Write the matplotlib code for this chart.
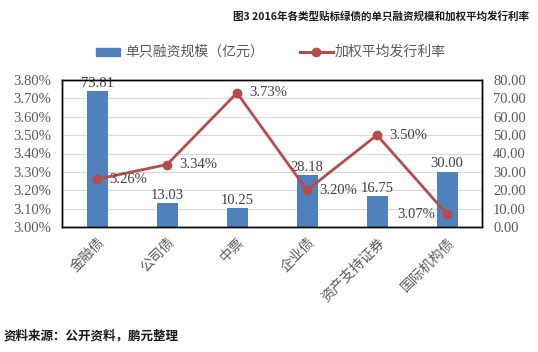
import matplotlib.pyplot as plt
from matplotlib.ticker import FuncFormatter, MultipleLocator

plt.rcParams['font.family'] = ['Noto Sans CJK SC', 'DejaVu Sans']

categories = ['金融债', '公司债', '中票', '企业债', '资产支持证券', '国际机构债']
scale = [73.81, 13.03, 10.25, 28.18, 16.75, 30.00]
rate = [3.26, 3.34, 3.73, 3.20, 3.50, 3.07]

bar_color = '#4F81BD'
line_color = '#B84A4A'
text_gray = '#595959'
num_font = ['Liberation Serif', 'DejaVu Serif']

fig = plt.figure(figsize=(5.38, 3.52), dpi=100)
ax = fig.add_axes([62 / 538, 1 - 227 / 352, 420 / 538, 147 / 352])
ax2 = ax.twinx()

x = list(range(len(categories)))

# bars on the right axis, line on the left axis
ax2.bar(x, scale, width=0.3, color=bar_color, zorder=2)
ax2.set_ylim(0, 80)
ax2.yaxis.set_major_locator(MultipleLocator(10))
ax2.yaxis.set_major_formatter(FuncFormatter(lambda v, p: f'{v:.2f}'))
ax2.grid(axis='y', color='#D9D9D9', linewidth=0.8, zorder=0)
ax2.set_axisbelow(True)
for xi, v in zip(x, scale):
    ax2.text(xi, v + 0.8, f'{v:.2f}', ha='center', va='bottom', fontsize=10.5,
             color='#404040', family=num_font)

ax.set_zorder(ax2.get_zorder() + 1)
ax.patch.set_visible(False)
ax.plot(x, rate, color=line_color, linewidth=2, marker='o', markersize=6, zorder=3)
ax.set_ylim(3.0, 3.8)
ax.set_xlim(-0.5, len(categories) - 0.5)
ax.yaxis.set_major_locator(MultipleLocator(0.1))
ax.yaxis.set_major_formatter(FuncFormatter(lambda v, p: f'{v:.2f}%'))
for xi, v in zip(x, rate):
    if xi == 5:
        ax.text(xi - 0.17, v, f'{v:.2f}%', ha='right', va='center', fontsize=10.5,
                color='#404040', family=num_font)
    else:
        ax.text(xi + 0.17, v, f'{v:.2f}%', ha='left', va='center', fontsize=10.5,
                color='#404040', family=num_font)

ax.set_xticks(x)
ax.set_xticklabels(categories, rotation=45, ha='right', rotation_mode='anchor',
                   fontsize=10, color=text_gray)
ax.tick_params(axis='x', length=0, pad=6)
for a in (ax, ax2):
    a.tick_params(axis='y', length=0, labelsize=10.5, labelcolor=text_gray)
    for lab in a.get_yticklabels():
        lab.set_family(num_font)
    for s in a.spines.values():
        s.set_color('black')
        s.set_linewidth(1)
ax.tick_params(axis='y', pad=8)
ax2.tick_params(axis='y', pad=8)

# legend
fig.patches.append(plt.Rectangle((96 / 538, 1 - 56 / 352), 24 / 538, 8 / 352,
                                 transform=fig.transFigure, color=bar_color))
fig.text(125 / 538, 1 - 52 / 352, '单只融资规模（亿元）', fontsize=10, color=text_gray,
         va='center', ha='left')
fig.add_artist(plt.Line2D([300 / 538, 333 / 538], [1 - 52 / 352, 1 - 52 / 352],
                          color=line_color, linewidth=2.2, transform=fig.transFigure))
fig.add_artist(plt.Line2D([316 / 538], [1 - 52 / 352], color=line_color, marker='o',
                          markersize=6, transform=fig.transFigure))
fig.text(335 / 538, 1 - 52 / 352, '加权平均发行利率', fontsize=10, color=text_gray,
         va='center', ha='left')

fig.text(529 / 538, 1 - 16 / 352, '图3 2016年各类型贴标绿债的单只融资规模和加权平均发行利率',
         fontsize=7.6, fontweight='bold', color='#1a1a1a', ha='right', va='center')
fig.text(4 / 538, 1 - 336 / 352, '资料来源：公开资料，鹏元整理', fontsize=9,
         fontweight='bold', color='#1a1a1a', ha='left', va='center')

fig.savefig('out.png', dpi=100)
